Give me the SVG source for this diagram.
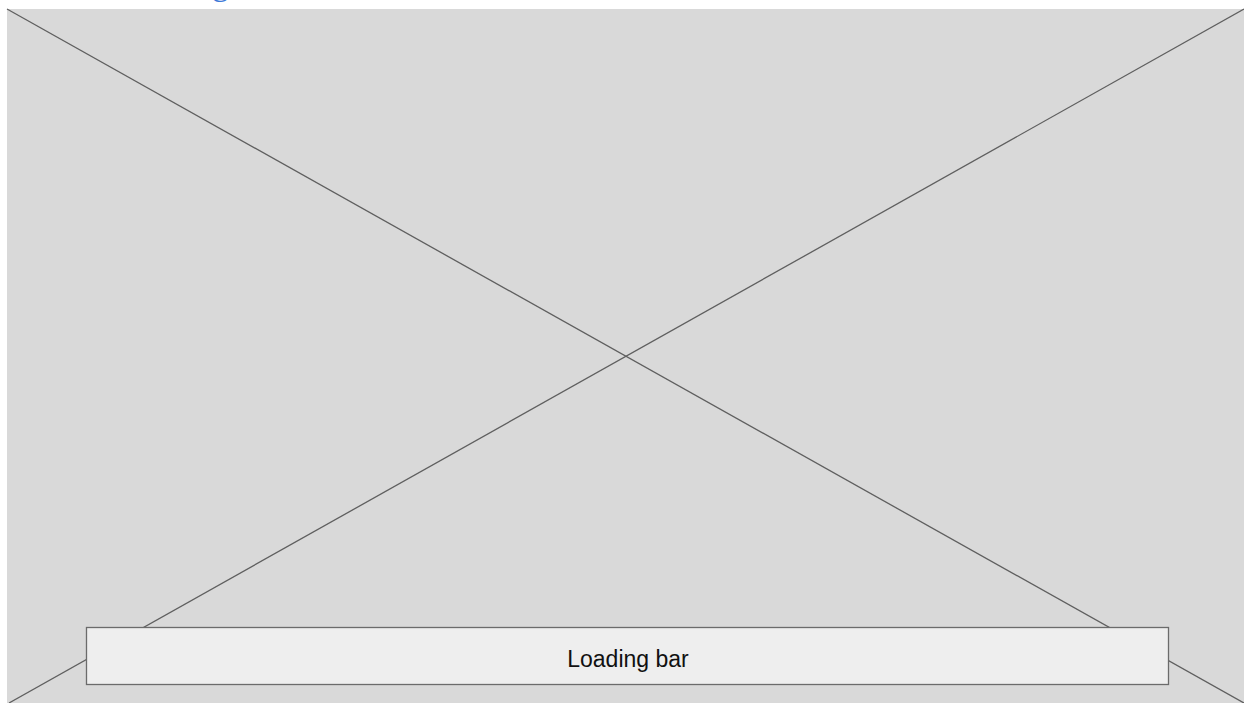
<svg xmlns="http://www.w3.org/2000/svg" width="1244" height="703" viewBox="0 0 1244 703">
<style>
.bg{fill:#d9d9d9;stroke:none}
.x{stroke:#5f5f5f;stroke-width:1.3;fill:none}
.bar{fill:#eeeeee;stroke:#6b6b6b;stroke-width:1.3}
.lbl{font-family:"Liberation Sans",Arial,sans-serif;font-size:23px;fill:#111111}
.head{font-family:"Liberation Serif",serif;font-size:34px;fill:#3c78d8}
</style>
<rect width="1244" height="703" fill="#ffffff"/>
<text class="head" x="212" y="-5">g</text>
<g id="placeholder">
<rect class="bg" x="7" y="9" width="1237" height="694"/>
</g>
<g id="connectors">
<line class="x" x1="7" y1="9" x2="1244" y2="703"/>
<line class="x" x1="1244" y1="9" x2="9" y2="703"/>
</g>
<g id="loading-bar">
<rect class="bar" x="86.5" y="627.5" width="1082" height="57"/>
<text class="lbl" x="628" y="667" text-anchor="middle">Loading bar</text>
</g>
</svg>
